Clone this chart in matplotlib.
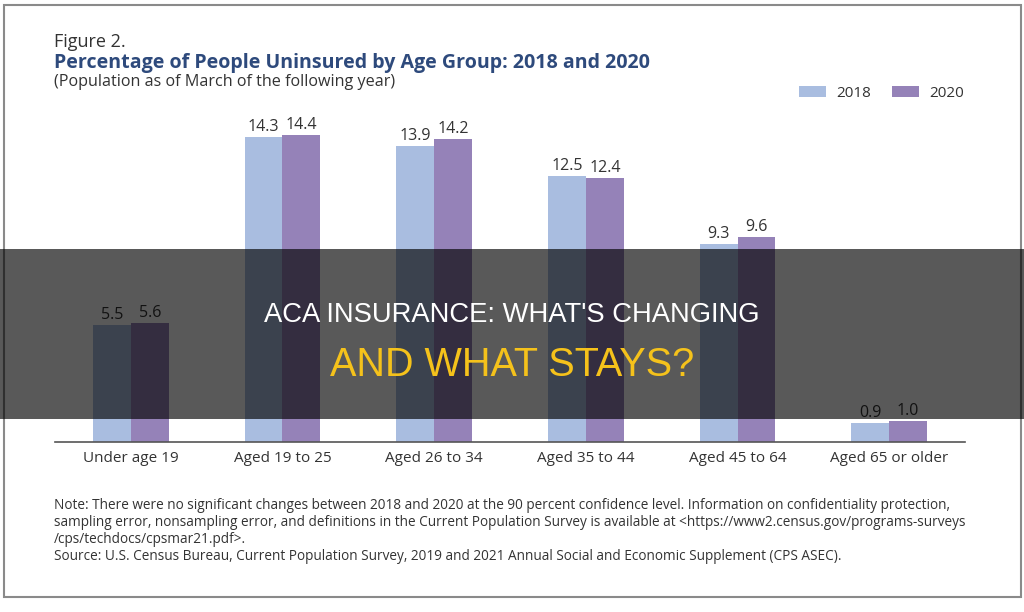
import numpy as np
import matplotlib.pyplot as plt
from matplotlib.patches import Rectangle

# Données
groupes = ["Under age 19", "Aged 19 to 25", "Aged 26 to 34",
           "Aged 35 to 44", "Aged 45 to 64", "Aged 65 or older"]
valeurs_2018 = [5.5, 14.3, 13.9, 12.5, 9.3, 0.9]
valeurs_2020 = [5.6, 14.4, 14.2, 12.4, 9.6, 1.0]
annees = ["2018", "2020"]

bleu = "#a9bde0"
violet = "#9582b8"
gris_texte = "#333333"

plt.rcParams['font.family'] = ['Open Sans', 'DejaVu Sans']

fig = plt.figure(figsize=(10.24, 6.12), dpi=100)
ax = fig.add_axes([0.0537, 0.2778, 0.8887, 0.557])

x = np.arange(len(groupes))
w = 0.25
b1 = ax.bar(x - w / 2, valeurs_2018, w, color=bleu)
b2 = ax.bar(x + w / 2, valeurs_2020, w, color=violet)
for barres in (b1, b2):
    for b in barres:
        ax.annotate(f"{b.get_height():.1f}", (b.get_x() + b.get_width() / 2, b.get_height()),
                    xytext=(0, 1.5), textcoords="offset points", ha="center", va="bottom",
                    fontsize=11.5, color=gris_texte)

ax.set_xlim(-0.5, 5.5)
ax.set_ylim(0, 16)
ax.set_xticks(x, groupes, fontsize=11, color=gris_texte)
ax.tick_params(axis="x", length=0, pad=6.5)
ax.set_yticks([])
for s in ("top", "right", "left"):
    ax.spines[s].set_visible(False)
ax.spines["bottom"].set_color("#555555")
ax.spines["bottom"].set_linewidth(1.2)

# Légende
ax.legend([b1, b2], annees, loc="center left", bbox_to_anchor=(799 / 1024, 1 - 93.5 / 612),
          bbox_transform=fig.transFigure, ncol=2, frameon=False, fontsize=11,
          borderpad=0, borderaxespad=0, handlelength=1.77, handleheight=0.72,
          handletextpad=0.65, columnspacing=1.4, labelcolor=gris_texte)

# Titres
fig.text(0.0527, 1 - 42 / 612, "Figure 2.", fontsize=13, color=gris_texte, va="center")
fig.text(0.0527, 1 - 63 / 612, "Percentage of People Uninsured by Age Group: 2018 and 2020",
         fontsize=14.1, fontweight="bold", color="#2e4a7c", va="center")
fig.text(0.0527, 1 - 82 / 612, "(Population as of March of the following year)",
         fontsize=11.6, color=gris_texte, va="center")

# Notes
note = ("Note: There were no significant changes between 2018 and 2020 at the 90 percent confidence level. "
        "Information on confidentiality protection,\nsampling error, nonsampling error, and definitions in the "
        "Current Population Survey is available at <https://www2.census.gov/programs-surveys\n"
        "/cps/techdocs/cpsmar21.pdf>.")
fig.text(0.053, 1 - 498 / 612, note, fontsize=9.85, color=gris_texte, va="top", linespacing=1.2)
fig.text(0.053, 1 - 557 / 612, "Source: U.S. Census Bureau, Current Population Survey, 2019 and 2021 Annual "
         "Social and Economic Supplement (CPS ASEC).", fontsize=9.85, color=gris_texte, va="center")

# Cadre
fig.add_artist(Rectangle((0.004, 0.024), 0.993, 0.968, transform=fig.transFigure,
                         fill=False, edgecolor="#8a8a8a", lw=1.5))

# Bandeau
fig.add_artist(Rectangle((0, 1 - 419 / 612), 1, 170 / 612, transform=fig.transFigure,
                         facecolor="black", alpha=0.65, edgecolor="none"))
fig.text(0.5, 1 - 312 / 612, "ACA INSURANCE: WHAT'S CHANGING", ha="center", va="center_baseline",
         fontsize=19.7, color="white", family=["Liberation Sans", "DejaVu Sans"])
fig.text(0.5, 1 - 361 / 612, "AND WHAT STAYS?", ha="center", va="center_baseline",
         fontsize=28.5, color="#f5c21b", family=["Liberation Sans", "DejaVu Sans"])

fig.savefig("out.png", dpi=100)
